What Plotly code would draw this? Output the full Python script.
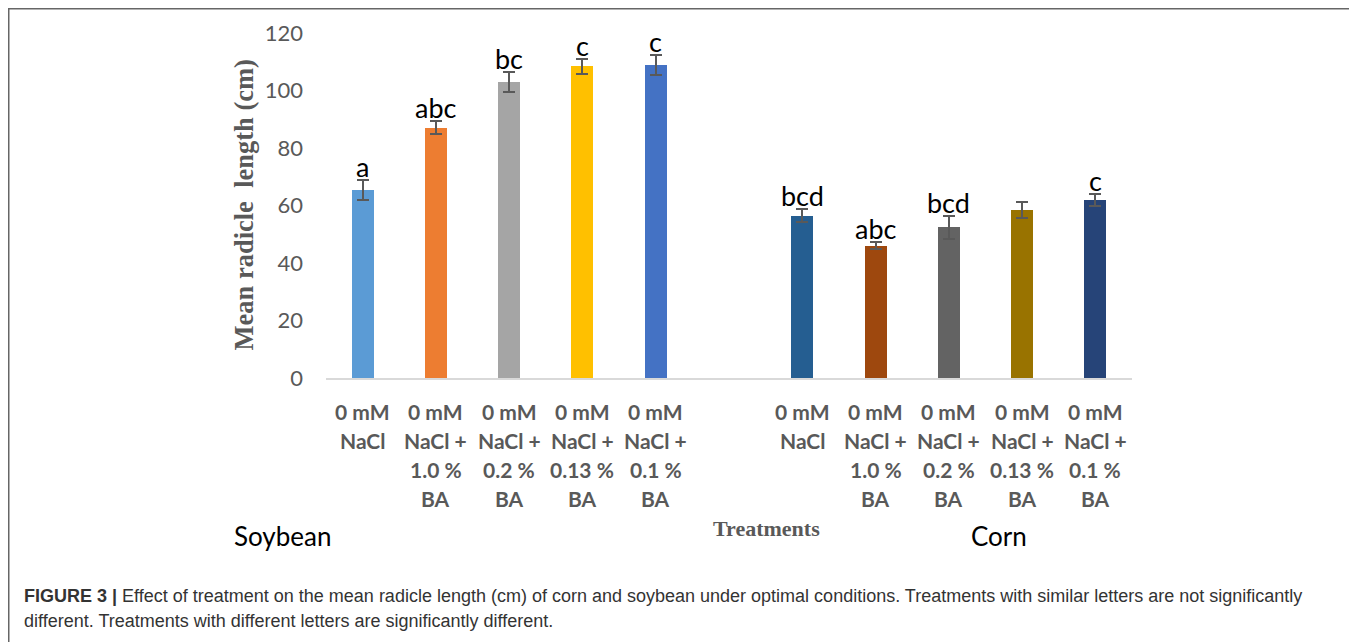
import plotly.graph_objects as go

# ---------------- data ----------------
treatment_lines = [
    ["0 mM", "NaCl", "", ""],
    ["0 mM", "NaCl +", "1.0 %", "BA"],
    ["0 mM", "NaCl +", "0.2 %", "BA"],
    ["0 mM", "NaCl +", "0.13 %", "BA"],
    ["0 mM", "NaCl +", "0.1 %", "BA"],
]
soy_means = [65.5, 87.0, 103.0, 108.5, 109.0]
soy_err = [3.5, 2.3, 3.5, 2.6, 3.5]
soy_letters = ["a", "abc", "bc", "c", "c"]
soy_colors = ["#5B9BD5", "#ED7D31", "#A5A5A5", "#FFC000", "#4472C4"]

corn_means = [56.5, 46.0, 52.5, 58.5, 62.0]
corn_err = [2.3, 1.3, 4.0, 2.8, 2.0]
corn_letters = ["bcd", "abc", "bcd", "", "c"]
corn_colors = ["#255E91", "#9E480E", "#636363", "#997300", "#264478"]

y_ticks = [0, 20, 40, 60, 80, 100, 120]

soy_x = list(range(0, 5))
corn_x = list(range(6, 11))

caption_bold = "FIGURE 3 |"
caption_1 = " Effect of treatment on the mean radicle length (cm) of corn and soybean under optimal conditions. Treatments with similar letters are not significantly"
caption_2 = "different. Treatments with different letters are significantly different."

# ---------------- figure ----------------
fig = go.Figure()

err_style = dict(type="data", visible=True, color="#595959", thickness=2, width=6)

for xs, ms, es, cs in [(soy_x, soy_means, soy_err, soy_colors),
                       (corn_x, corn_means, corn_err, corn_colors)]:
    fig.add_trace(go.Bar(
        x=xs, y=ms, width=0.3,
        marker=dict(color=cs, line=dict(width=0)),
        error_y=dict(array=es, **err_style),
        showlegend=False, hoverinfo="x+y",
    ))

annotations = []
calibri = "Lato, Carlito, Open Sans, sans-serif"
serif = "Liberation Serif, Times New Roman, serif"

# significance letters
for xs, ms, es, ls in [(soy_x, soy_means, soy_err, soy_letters),
                       (corn_x, corn_means, corn_err, corn_letters)]:
    for x, m, e, l in zip(xs, ms, es, ls):
        if l:
            annotations.append(dict(x=x, y=m + e, xref="x", yref="y", text=l,
                                    showarrow=False, yanchor="bottom", yshift=-5,
                                    font=dict(family=calibri, size=27, color="#000000")))

# multi-line treatment labels
line_offsets = [33, 62, 91, 120]
for xs in (soy_x, corn_x):
    for x, lines in zip(xs, treatment_lines):
        for off, txt in zip(line_offsets, lines):
            if txt:
                annotations.append(dict(x=x, y=0, xref="x", yref="paper", text=txt,
                                        showarrow=False, yanchor="middle", yshift=-off,
                                        font=dict(family=calibri, size=21, color="#595959",
                                                  weight="bold")))

# axis titles
annotations.append(dict(x=0, y=0.5, xref="paper", yref="paper", text="<b>Mean radicle  length (cm)</b>",
                        textangle=-90, showarrow=False, xanchor="center", yanchor="middle",
                        xshift=-83,
                        font=dict(family=serif, size=26.5, color="#595959")))
annotations.append(dict(x=0, y=0, xref="paper", yref="paper", text="<b>Treatments</b>",
                        showarrow=False, xanchor="center", yanchor="middle", xshift=440, yshift=-150,
                        font=dict(family=serif, size=22, color="#595959")))

# group names
annotations.append(dict(x=0, y=0, xref="paper", yref="paper", text="Soybean",
                        showarrow=False, xanchor="left", yanchor="middle", xshift=-94, yshift=-158,
                        font=dict(family=calibri, size=26, color="#000000")))
annotations.append(dict(x=0, y=0, xref="paper", yref="paper", text="Corn",
                        showarrow=False, xanchor="center", yanchor="middle", xshift=673, yshift=-158,
                        font=dict(family=calibri, size=26, color="#000000")))

# caption
cap_font = dict(family="Liberation Sans, Arial, sans-serif", size=18, color="#333333")
annotations.append(dict(x=0, y=0, xref="paper", yref="paper",
                        text="<b>" + caption_bold + "</b>" + caption_1,
                        showarrow=False, xanchor="left", yanchor="middle", xshift=-304, yshift=-218,
                        font=cap_font))
annotations.append(dict(x=0, y=0, xref="paper", yref="paper", text=caption_2,
                        showarrow=False, xanchor="left", yanchor="middle", xshift=-304, yshift=-243,
                        font=cap_font))

# the page body adds an 8px margin: figure spans page x 8..1357, y 8..642
W, H = 1349, 634
L, R, T, B = 318, 225, 25, 264
pw, ph = W - L - R, H - T - B

def px(xp):
    return (xp - L) / pw

def py(yp):
    return (H - B - yp) / ph

shapes = [dict(type="rect", xref="paper", yref="paper",
               x0=px(0.5), x1=px(1347), y0=py(700), y1=py(0.5),
               line=dict(color="#666666", width=2), fillcolor="rgba(0,0,0,0)", layer="below")]

fig.update_layout(
    width=W, height=H, autosize=False,
    margin=dict(l=L, r=R, t=T, b=B, pad=0),
    paper_bgcolor="white", plot_bgcolor="white",
    xaxis=dict(range=[-0.5, 10.5], showticklabels=False, ticks="", showgrid=False,
               zeroline=False, showline=True, linecolor="#D9D9D9", linewidth=2, fixedrange=True),
    yaxis=dict(range=[0, 120], tickvals=y_ticks, showgrid=False, zeroline=False, showline=False,
               ticks="", ticklabelstandoff=22,
               tickfont=dict(family=calibri, size=22, color="#595959"), fixedrange=True),
    annotations=annotations,
    shapes=shapes,
    bargap=0,
)

fig.write_html("out.html")
